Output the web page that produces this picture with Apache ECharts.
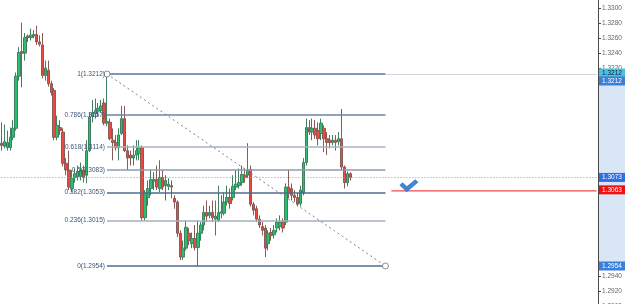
<!DOCTYPE html>
<html>
<head>
<meta charset="utf-8">
<script src="https://cdn.jsdelivr.net/npm/echarts@6/dist/echarts.min.js"></script>
<style>
  html, body { margin: 0; padding: 0; background: #fff; }
  #chart { width: 625px; height: 304px; }
</style>
</head>
<body>
<div id="chart"></div>
<script>
// candles: [open, close, low, high]
const candles = [
  [1.3119, 1.3116, 1.3109, 1.3147], [1.3115, 1.3121, 1.3112, 1.3144], [1.3113, 1.3120, 1.3109, 1.3136],
  [1.3113, 1.3127, 1.3109, 1.3140], [1.3127, 1.3139, 1.3123, 1.3150], [1.3139, 1.3209, 1.3136, 1.3214],
  [1.3209, 1.3241, 1.3203, 1.3248], [1.3242, 1.3240, 1.3194, 1.3281], [1.3240, 1.3261, 1.3230, 1.3267],
  [1.3263, 1.3261, 1.3255, 1.3265], [1.3261, 1.3264, 1.3257, 1.3273], [1.3263, 1.3265, 1.3260, 1.3271],
  [1.3265, 1.3255, 1.3251, 1.3277], [1.3255, 1.3252, 1.3249, 1.3264], [1.3251, 1.3210, 1.3206, 1.3267],
  [1.3210, 1.3220, 1.3203, 1.3230], [1.3217, 1.3199, 1.3195, 1.3230], [1.3199, 1.3187, 1.3183, 1.3203],
  [1.3190, 1.3127, 1.3123, 1.3193], [1.3127, 1.3143, 1.3123, 1.3156], [1.3140, 1.3136, 1.3130, 1.3150],
  [1.3134, 1.3092, 1.3088, 1.3139], [1.3092, 1.3083, 1.3076, 1.3099], [1.3083, 1.3060, 1.3056, 1.3109],
  [1.3058, 1.3072, 1.3053, 1.3083], [1.3073, 1.3078, 1.3066, 1.3085], [1.3074, 1.3081, 1.3069, 1.3089],
  [1.3074, 1.3083, 1.3069, 1.3093], [1.3083, 1.3073, 1.3066, 1.3089], [1.3076, 1.3109, 1.3065, 1.3123],
  [1.3109, 1.3154, 1.3107, 1.3160], [1.3155, 1.3160, 1.3147, 1.3177], [1.3159, 1.3163, 1.3152, 1.3179],
  [1.3162, 1.3166, 1.3155, 1.3173], [1.3163, 1.3169, 1.3160, 1.3177], [1.3173, 1.3146, 1.3143, 1.3179],
  [1.3146, 1.3148, 1.3142, 1.3212], [1.3147, 1.3125, 1.3123, 1.3152], [1.3123, 1.3120, 1.3096, 1.3139],
  [1.3120, 1.3113, 1.3109, 1.3130], [1.3113, 1.3130, 1.3096, 1.3139], [1.3132, 1.3152, 1.3130, 1.3169],
  [1.3152, 1.3109, 1.3107, 1.3169], [1.3109, 1.3099, 1.3083, 1.3116], [1.3103, 1.3099, 1.3089, 1.3109],
  [1.3099, 1.3103, 1.3089, 1.3116], [1.3103, 1.3109, 1.3096, 1.3123], [1.3105, 1.3113, 1.3096, 1.3123],
  [1.3113, 1.3019, 1.3015, 1.3116], [1.3019, 1.3052, 1.3015, 1.3056], [1.3046, 1.3058, 1.3035, 1.3069],
  [1.3058, 1.3070, 1.3049, 1.3083], [1.3068, 1.3070, 1.3056, 1.3080], [1.3070, 1.3060, 1.3056, 1.3089],
  [1.3058, 1.3073, 1.3053, 1.3096], [1.3073, 1.3060, 1.3056, 1.3083], [1.3062, 1.3069, 1.3042, 1.3076],
  [1.3061, 1.3064, 1.3056, 1.3072], [1.3062, 1.3060, 1.3045, 1.3069], [1.3045, 1.3040, 1.3031, 1.3049],
  [1.3040, 1.2998, 1.2993, 1.3042], [1.2998, 1.2966, 1.2962, 1.3002], [1.2966, 1.2978, 1.2962, 1.2988],
  [1.2978, 1.3006, 1.2975, 1.3015], [1.2998, 1.2988, 1.2982, 1.3005], [1.2984, 1.2991, 1.2978, 1.2999],
  [1.2991, 1.2979, 1.2975, 1.3009], [1.2979, 1.2998, 1.2954, 1.3015], [1.2998, 1.3009, 1.2988, 1.3013],
  [1.3009, 1.3026, 1.3002, 1.3035], [1.3026, 1.3021, 1.3013, 1.3042], [1.3022, 1.3026, 1.3018, 1.3035],
  [1.3026, 1.3019, 1.3013, 1.3042], [1.3017, 1.3021, 1.2995, 1.3042], [1.3015, 1.3026, 1.3013, 1.3062],
  [1.3025, 1.3027, 1.3018, 1.3049], [1.3025, 1.3040, 1.3022, 1.3053], [1.3040, 1.3046, 1.3035, 1.3062],
  [1.3046, 1.3038, 1.3031, 1.3058], [1.3046, 1.3061, 1.3042, 1.3076], [1.3060, 1.3064, 1.3056, 1.3083],
  [1.3062, 1.3066, 1.3058, 1.3085], [1.3066, 1.3077, 1.3062, 1.3089], [1.3076, 1.3073, 1.3066, 1.3085],
  [1.3076, 1.3083, 1.3072, 1.3119], [1.3084, 1.3037, 1.3034, 1.3089], [1.3037, 1.3029, 1.3022, 1.3040],
  [1.3031, 1.3017, 1.3013, 1.3035], [1.3017, 1.3009, 1.3005, 1.3022], [1.3007, 1.3002, 1.2995, 1.3013],
  [1.3005, 1.2978, 1.2966, 1.3009], [1.2984, 1.2998, 1.2975, 1.3002], [1.2999, 1.2995, 1.2988, 1.3005],
  [1.2996, 1.3002, 1.2991, 1.3009], [1.3005, 1.3013, 1.2999, 1.3018], [1.3007, 1.3013, 1.3002, 1.3022],
  [1.3013, 1.3005, 1.2999, 1.3018], [1.3013, 1.3060, 1.3009, 1.3065], [1.3060, 1.3052, 1.3045, 1.3083],
  [1.3058, 1.3049, 1.3042, 1.3065], [1.3049, 1.3046, 1.3040, 1.3056], [1.3046, 1.3037, 1.3034, 1.3052],
  [1.3038, 1.3056, 1.3034, 1.3062], [1.3052, 1.3093, 1.3049, 1.3099], [1.3093, 1.3140, 1.3089, 1.3152],
  [1.3140, 1.3134, 1.3130, 1.3150], [1.3134, 1.3139, 1.3123, 1.3152], [1.3139, 1.3130, 1.3125, 1.3150],
  [1.3136, 1.3125, 1.3116, 1.3147], [1.3132, 1.3146, 1.3123, 1.3152], [1.3139, 1.3125, 1.3107, 1.3143],
  [1.3125, 1.3120, 1.3103, 1.3134], [1.3123, 1.3120, 1.3112, 1.3130], [1.3120, 1.3123, 1.3116, 1.3130],
  [1.3123, 1.3120, 1.3109, 1.3130], [1.3121, 1.3125, 1.3116, 1.3134], [1.3125, 1.3087, 1.3083, 1.3165],
  [1.3087, 1.3066, 1.3058, 1.3089], [1.3066, 1.3078, 1.3061, 1.3081], [1.3078, 1.3073, 1.3069, 1.3080]
];

const slotCount = 204;               // bar slots across the plot, the right part is empty future space
const fibStart = 36, fibEnd = 131;   // bar index of the swing high and the projected end
const fibRatios = ['1', '0.786', '0.618', '0.5', '0.382', '0.236', '0'];
const fibPrices = [1.3212, 1.3157, 1.3114, 1.3083, 1.3053, 1.3015, 1.2954];
const fibColors = ['#56769a', '#6a86a6', '#a7b3c1', '#8d9db0', '#4f6d8e', '#a3afbd', '#4f6d8e'];
const lastPrice = 1.3073;
const alertPrice = 1.3055, alertText = '1.3063', alertStart = 133;
const checkAt = [139, 1.3062];
const yTicks = { min: 1.2900, max: 1.3320, step: 0.002 };

const slots = Array.from({ length: slotCount }, (_, i) => String(i));

const fibLines = fibPrices.map((p, k) => [
  {
    coord: [fibStart, p],
    lineStyle: { color: fibColors[k], width: 1.5, type: 'solid' },
    label: {
      show: true, position: 'start', distance: 2,
      formatter: fibRatios[k] + '(' + p.toFixed(4) + ')',
      color: '#3b5575', fontSize: 6.5, fontFamily: 'Liberation Sans'
    }
  },
  { coord: [fibEnd, p] }
]);

const otherLines = [
  // diagonal of the retracement
  [{ coord: [fibStart, fibPrices[0]], lineStyle: { color: '#7d8389', width: 1, type: [2, 3] }, label: { show: false } },
   { coord: [fibEnd, fibPrices[6]] }],
  // extension of the high to the price scale
  [{ coord: [fibEnd, fibPrices[0]], lineStyle: { color: '#cfd6de', width: 1, type: 'solid' }, label: { show: false } },
   { coord: [slotCount - 1, fibPrices[0]] }],
  // current price
  [{ coord: [0, lastPrice], lineStyle: { color: '#7f9be0', width: 1, type: [1, 2] }, label: { show: false } },
   { coord: [slotCount - 1, lastPrice] }]
];

const option = {
  animation: false,
  backgroundColor: '#ffffff',
  grid: { left: 0, right: 27, top: -6.4, bottom: -2.2, outerBoundsMode: 'none' },
  xAxis: {
    type: 'category', data: slots, boundaryGap: true, show: false
  },
  yAxis: {
    type: 'value', position: 'right', scale: true,
    min: yTicks.min, max: yTicks.max, interval: yTicks.step,
    axisLine: { show: true, lineStyle: { color: '#4a4a4a', width: 1 } },
    axisTick: { show: true, length: 3, lineStyle: { color: '#4a4a4a' } },
    axisLabel: {
      fontSize: 6.5, color: '#666', margin: 4, fontFamily: 'Liberation Sans',
      formatter: v => v.toFixed(4)
    },
    splitLine: { show: false }
  },
  series: [{
    type: 'candlestick',
    data: candles,
    barWidth: 3,
    itemStyle: {
      color: '#27c06c', color0: '#ea4a42',
      borderColor: '#3f8060', borderColor0: '#8a5a55', borderWidth: 1
    },
    markLine: {
      silent: true, symbol: ['none', 'none'], animation: false,
      data: fibLines.concat(otherLines)
    },
    markPoint: {
      silent: true, animation: false,
      label: { show: false },
      data: [
        { coord: [fibStart, fibPrices[0]], symbol: 'circle', symbolSize: 6,
          itemStyle: { color: '#fff', borderColor: '#8a8f94', borderWidth: 1 } },
        { coord: [fibEnd, fibPrices[6]], symbol: 'circle', symbolSize: 6,
          itemStyle: { color: '#fff', borderColor: '#8a8f94', borderWidth: 1 } },
        { coord: checkAt, symbol: 'path://M0,6 L3,3 L7,7 L15,0 L18,3 L7,13 Z', symbolSize: [19, 13],
          itemStyle: { color: '#3f86d2' } }
      ]
    }
  }, {
    // alert level drawn to the price scale
    type: 'line',
    data: [[alertStart, alertPrice], [slotCount - 1, alertPrice]],
    symbol: 'none',
    lineStyle: { color: '#f24848', width: 1.2 },
    itemStyle: { color: '#f24848' },
    silent: true
  }]
};

const chart = echarts.init(document.getElementById('chart'));
chart.setOption(option);

// price scale decorations, placed from the axis scale
const axisLeft = chart.getWidth() - 27;
const yOf = v => chart.convertToPixel({ yAxisIndex: 0 }, v);
function tag(price, text, bg, fg, dy) {
  return {
    type: 'text', z: 100,
    x: axisLeft + 1, y: yOf(price) + (dy || 0),
    style: {
      text: text, fill: fg, font: '6.5px "Liberation Sans"',
      backgroundColor: bg, padding: [1, 3, 1, 3],
      verticalAlign: 'middle', align: 'left', width: 20
    }
  };
}
chart.setOption({
  graphic: [
    {
      type: 'rect', z: 1, silent: true,
      shape: { x: axisLeft + 1, y: yOf(fibPrices[0]), width: 27, height: yOf(fibPrices[6]) - yOf(fibPrices[0]) },
      style: { fill: '#d9e6f6' }
    },
    tag(fibPrices[0], fibPrices[0].toFixed(4), '#4cc0e4', '#123', -1),
    tag(fibPrices[0], fibPrices[0].toFixed(4), '#3b7fda', '#fff', 7),
    tag(lastPrice, lastPrice.toFixed(4), '#2f6ee3', '#fff', 0),
    tag(alertPrice, alertText, '#f01010', '#fff', -1),
    tag(fibPrices[6], fibPrices[6].toFixed(4), '#3b7fda', '#fff', 0)
  ]
});
</script>
</body>
</html>
